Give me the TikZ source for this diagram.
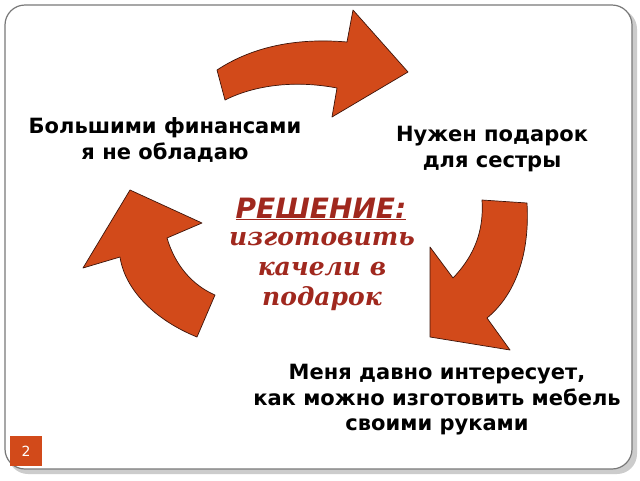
\documentclass[tikz,border=0pt]{standalone}
\usepackage{fontspec}
\setmainfont{DejaVu Sans}
\newfontfamily\serifbi{DejaVu Serif}
\definecolor{arrowfill}{RGB}{210,74,26}
\definecolor{arrowline}{RGB}{60,20,10}
\definecolor{solred}{RGB}{160,40,30}
\definecolor{framegray}{RGB}{120,120,120}
\tikzset{
  bigarrow/.style={fill=arrowfill,draw=arrowline,line width=0.7pt,line join=round},
  lbl/.style={font=\bfseries\fontsize{21}{25.5}\selectfont,align=center,text=black,inner sep=0pt},
  sol/.style={text=solred,align=center,inner sep=0pt}
}
\begin{document}
\begin{tikzpicture}[x=1pt,y=-1pt]
\useasboundingbox (0,0) rectangle (640,480);
\fill[white] (0,0) rectangle (640,480);
% frame with shadow
\fill[gray!40,rounded corners=20pt] (8,9) rectangle (637,474);
\draw[framegray,fill=white,line width=1.2pt,rounded corners=20pt] (5,5) rectangle (632,469);
% top arrow
\draw[bigarrow] (217,70) .. controls (255,45) and (300,38) .. (347,42)
  -- (353,10) -- (408,72) -- (332,117) -- (337,88)
  .. controls (295,80) and (255,85) .. (225,100) -- cycle;
% right arrow
\draw[bigarrow] (482,200) -- (527,203)
  .. controls (530,255) and (515,295) .. (487,318)
  -- (510,350) -- (430,337) -- (430,247) -- (453,278)
  .. controls (475,255) and (484,230) .. (482,200) -- cycle;
% left arrow
\draw[bigarrow] (130,190) -- (202,223) -- (167,238)
  .. controls (175,265) and (192,285) .. (215,295)
  -- (197,337) .. controls (155,320) and (125,290) .. (120,257)
  -- (83,268) -- cycle;
% labels
\node[lbl] (t1) at (165,140) {Большими финансами\\я не обладаю};
\node[lbl] (t2) at (492,149) {Нужен подарок\\для сестры};
\node[lbl] (t3) at (437,400) {Меня давно интересует,\\как можно изготовить мебель\\своими руками};
% solution
\node[sol,font=\bfseries\itshape\fontsize{28}{28}\selectfont] (s1) at (321,209) {\underline{РЕШЕНИЕ:}};
\node[sol,font=\serifbi\bfseries\itshape\fontsize{25}{30}\selectfont] (s2) at (322,271) {изготовить\\качели в\\подарок};
% page number
\fill[arrowfill] (10,436) rectangle (42,466);
\node[text=white,font=\fontsize{14}{14}\selectfont] (pn) at (26,451) {2};
\end{tikzpicture}
\end{document}
